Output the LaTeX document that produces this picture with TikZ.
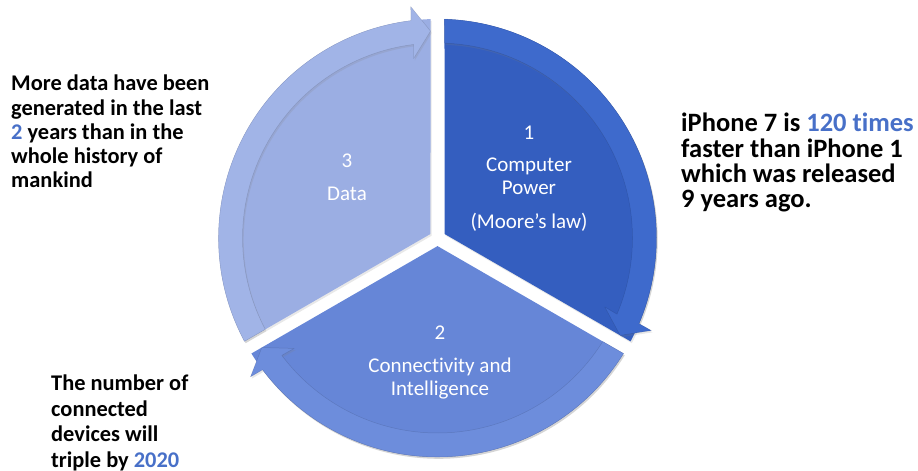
\documentclass[tikz,border=0pt]{standalone}
\usepackage{fontspec}
\setmainfont{Carlito}[Ligatures=NoCommon]
\usepackage{xcolor}
\usepackage{tikz}
\usetikzlibrary{shadows}
\definecolor{cyone}{RGB}{52,94,191}
\definecolor{cyoneband}{RGB}{62,106,204}
\definecolor{cytwo}{RGB}{102,134,215}
\definecolor{cytwoband}{RGB}{109,141,220}
\definecolor{cythree}{RGB}{155,174,227}
\definecolor{cythreeband}{RGB}{161,180,231}
\definecolor{cyhl}{RGB}{72,112,200}
\newcommand{\cyhi}[1]{\textcolor{cyhl}{#1}}
\tikzset{
  seg/.style={line join=round,
    drop shadow={opacity=0.18, shadow xshift=1.2pt, shadow yshift=-1.8pt}},
  band/.style={seg, draw=black, draw opacity=0.12, line width=0.5pt},
  lbl/.style={text=white, align=center, inner sep=0pt,
    font=\fontsize{21}{23}\selectfont},
  note/.style={anchor=base west, align=left, inner sep=0pt,
    font=\bfseries\fontsize{22.4}{24.3}\selectfont}
}
\begin{document}
\begin{tikzpicture}[x=1pt,y=1pt]
  \useasboundingbox (0,0) rectangle (918,471);
  \coordinate (c) at (437.5,233);
  \begin{scope}[shift={(c)}]
    % pie segments
    \fill[seg, cyone] (30:8.1pt) -- (88.17:219pt)
      arc[start angle=88.17, end angle=-28.17, radius=219pt] -- cycle;
    \fill[seg, cytwo] (270:8.1pt) -- (328.17:219pt)
      arc[start angle=328.17, end angle=211.83, radius=219pt] -- cycle;
    \fill[seg, cythree] (150:8.1pt) -- (208.17:219pt)
      arc[start angle=208.17, end angle=91.83, radius=219pt] -- cycle;
    % arrow bands
    \filldraw[band, fill=cyoneband] (88.17:219pt)
      arc[start angle=88.17, end angle=-23, radius=219pt]
      -- (-23.4:233pt) -- (-28.06:207pt) -- (-22.4:181pt) -- (-23:195pt)
      arc[start angle=-23, end angle=87.94, radius=195pt] -- cycle;
    \filldraw[band, fill=cytwoband] (328.17:219pt)
      arc[start angle=328.17, end angle=217, radius=219pt]
      -- (216.6:233pt) -- (211.94:207pt) -- (217.6:181pt) -- (217:195pt)
      arc[start angle=217, end angle=327.94, radius=195pt] -- cycle;
    \filldraw[band, fill=cythreeband] (208.17:219pt)
      arc[start angle=208.17, end angle=97, radius=219pt]
      -- (96.6:233pt) -- (91.94:207pt) -- (97.6:181pt) -- (97:195pt)
      arc[start angle=97, end angle=207.94, radius=195pt] -- cycle;
  \end{scope}
  % segment labels
  \node[lbl] (power) at (529,292.5) {1\\[9pt]Computer\\Power\\[11pt](Moore’s law)};
  \node[lbl] (conn) at (440,109) {2\\[10pt]Connectivity and\\Intelligence};
  \node[lbl] (data) at (347,294) {3\\[10pt]Data};
  % side notes (anchored at the last line)
  \node[note] (datanote) at (11,283) {More data have been\\generated in the last\\
    \cyhi{2} years than in the\\whole history of\\mankind};
  \node[note, font=\bfseries\fontsize{26.5}{25.4}\selectfont] (phonenote) at (681,263)
    {iPhone 7 is \cyhi{120 times}\\faster than iPhone 1\\which was released\\9 years ago.};
  \node[note, font=\bfseries\fontsize{22.4}{26}\selectfont] (devnote) at (51,3)
    {The number of\\connected\\devices will\\triple by \cyhi{2020}};
\end{tikzpicture}
\end{document}
